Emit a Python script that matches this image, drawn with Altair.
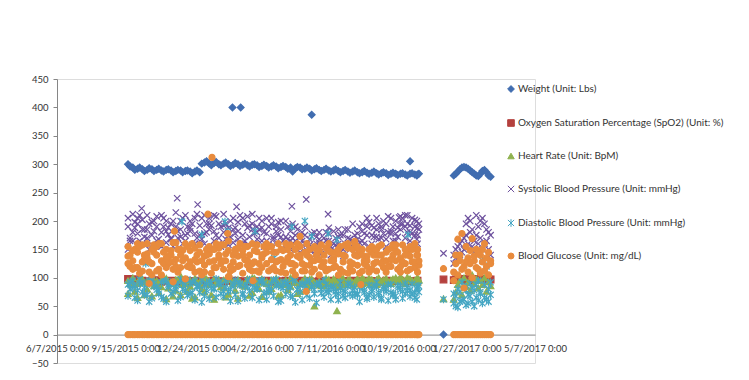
import altair as alt
import pandas as pd

SERIES = [
    "Weight (Unit: Lbs)",
    "Oxygen Saturation Percentage (SpO2) (Unit: %)",
    "Heart Rate (Unit: BpM)",
    "Systolic Blood Pressure (Unit: mmHg)",
    "Diastolic Blood Pressure (Unit: mmHg)",
    "Blood Glucose (Unit: mg/dL)",
]

# ---- measurement dates (segment 2015-2016, two interleaved sets) ----
DATES_A = [
    "2015-09-19", "2015-09-26", "2015-10-03", "2015-10-10", "2015-10-17", "2015-10-24", "2015-10-31",
    "2015-11-07", "2015-11-14", "2015-11-21", "2015-11-28", "2015-12-05", "2015-12-12", "2015-12-19",
    "2015-12-26", "2016-01-02", "2016-01-09", "2016-01-16", "2016-01-23", "2016-01-30", "2016-02-06",
    "2016-02-13", "2016-02-20", "2016-02-27", "2016-03-05", "2016-03-12", "2016-03-19", "2016-03-26",
    "2016-04-02", "2016-04-09", "2016-04-16", "2016-04-23", "2016-04-30", "2016-05-07", "2016-05-14",
    "2016-05-21", "2016-05-28", "2016-06-04", "2016-06-11", "2016-06-18", "2016-06-25", "2016-07-02",
    "2016-07-09", "2016-07-16", "2016-07-23", "2016-07-30", "2016-08-06", "2016-08-13", "2016-08-20",
    "2016-08-27", "2016-09-03", "2016-09-10", "2016-09-17", "2016-09-24", "2016-10-01", "2016-10-08",
    "2016-10-15", "2016-10-22", "2016-10-29", "2016-11-05", "2016-11-12", "2016-11-16",
]
DATES_B = [
    "2015-09-22", "2015-09-29", "2015-10-06", "2015-10-13", "2015-10-20", "2015-10-27", "2015-11-03",
    "2015-11-10", "2015-11-17", "2015-11-24", "2015-12-01", "2015-12-08", "2015-12-15", "2015-12-22",
    "2015-12-29", "2016-01-05", "2016-01-12", "2016-01-19", "2016-01-26", "2016-02-02", "2016-02-09",
    "2016-02-16", "2016-02-23", "2016-03-01", "2016-03-08", "2016-03-15", "2016-03-22", "2016-03-29",
    "2016-04-05", "2016-04-12", "2016-04-19", "2016-04-26", "2016-05-03", "2016-05-10", "2016-05-17",
    "2016-05-24", "2016-05-31", "2016-06-07", "2016-06-14", "2016-06-21", "2016-06-28", "2016-07-05",
    "2016-07-12", "2016-07-19", "2016-07-26", "2016-08-02", "2016-08-09", "2016-08-16", "2016-08-23",
    "2016-08-30", "2016-09-06", "2016-09-13", "2016-09-20", "2016-09-27", "2016-10-04", "2016-10-11",
    "2016-10-18", "2016-10-25", "2016-11-01", "2016-11-08", "2016-11-15", "2016-11-18",
]
# ---- 2017 segment ----
DATES_C = [
    "2017-01-08", "2017-01-11", "2017-01-14", "2017-01-17", "2017-01-20", "2017-01-23", "2017-01-26",
    "2017-01-29", "2017-02-01", "2017-02-04", "2017-02-07", "2017-02-10", "2017-02-13", "2017-02-16",
    "2017-02-19", "2017-02-22", "2017-02-25", "2017-02-28", "2017-03-03",
]
# single reading day in the gap
DATE_GAP = ["2016-12-24"]

# ---- Weight ----
WEIGHT_A = [300, 294, 292, 291, 290, 291, 290, 289, 290, 289, 288, 289, 288, 287, 287, 286, 303, 301, 302, 300,
            301, 300, 299, 300, 299, 298, 299, 298, 297, 297, 296, 296, 295, 295, 294, 293, 294, 292, 292, 291,
            290, 290, 289, 289, 288, 288, 287, 287, 286, 286, 285, 285, 284, 284, 284, 283, 283, 283, 282, 283,
            282, 282]
WEIGHT_B = [296, 290, 294, 288, 293, 288, 292, 287, 291, 286, 290, 286, 289, 284, 289, 301, 305, 298, 304, 298,
            303, 297, 302, 297, 301, 296, 300, 295, 299, 294, 298, 293, 297, 292, 287, 295, 291, 294, 289, 293,
            288, 292, 287, 291, 286, 290, 285, 289, 284, 288, 283, 287, 282, 286, 281, 285, 281, 284, 280, 284,
            280, 283]
WEIGHT_C = [280, 283, 287, 291, 294, 295, 294, 292, 289, 286, 283, 280, 279, 283, 288, 290, 286, 280, 278]
WEIGHT_GAP = [0]
WEIGHT_OUT_DATES = ["2016-02-19", "2016-03-02", "2016-06-14", "2016-11-05"]
WEIGHT_OUT = [400, 400, 387, 305]

# ---- SpO2 ----
SPO2_A = [98, 97, 97, 95, 94, 95, 96, 93, 94, 95, 94, 93, 95, 94, 94, 95, 93, 94, 95, 94, 93, 94, 95, 94, 94,
          93, 95, 94, 94, 95, 93, 94, 94, 95, 94, 93, 95, 94, 94, 93, 95, 94, 94, 95, 93, 94, 94, 95, 94, 93,
          95, 94, 94, 93, 95, 94, 94, 95, 93, 94, 94, 95]
SPO2_C = [96, 97, 97, 96, 98, 97, 96, 97, 98, 97, 96, 97, 98, 96, 97, 97, 98, 97, 97]
SPO2_GAP = [97]

# ---- Heart rate ----
HR_A = [72, 88, 65, 92, 80, 68, 95, 84, 63, 90, 78, 70, 97, 85, 66, 93, 75, 88, 62, 96, 82, 71, 90, 64, 87,
        98, 74, 86, 67, 94, 81, 89, 70, 96, 85, 92, 76, 99, 88, 50, 94, 86, 97, 90, 84, 99, 92, 87, 95, 100,
        91, 97, 88, 93, 99, 90, 96, 102, 94, 98, 92, 100]
HR_B = [90, 76, 98, 70, 94, 86, 74, 99, 82, 68, 95, 88, 76, 64, 92, 80, 98, 70, 91, 84, 66, 97, 78, 93, 85,
        69, 99, 81, 92, 76, 95, 68, 88, 79, 97, 72, 94, 83, 98, 90, 86, 99, 92, 95, 101, 88, 97, 93, 89, 96,
        99, 93, 100, 96, 92, 98, 94, 97, 101, 95, 99, 96]
HR_A2 = [95, 100, 90, 98, 93, 101, 88, 96, 99, 92, 97, 103, 90, 95, 99, 88, 100, 94, 98, 90, 96, 102, 92, 97,
         89, 95, 100, 93, 98, 90, 96, 99, 93, 88, 100, 95, 90, 94, 98, 92, 88, 95, 90, 98, 93, 88, 96, 92, 99,
         90, 95, 88, 97, 92, 90, 96, 100, 93, 90, 97, 95, 92]
HR_C = [62, 75, 88, 95, 70, 100, 85, 92, 78, 105, 90, 98, 82, 95, 88, 100, 76, 93, 86]
HR_GAP = [63]
HR_OUT_DATES = ["2016-07-21"]
HR_OUT = [42]

# ---- Systolic ----
SYS_A = [205, 180, 195, 160, 210, 175, 190, 155, 200, 170, 215, 185, 165, 200, 178, 192, 160, 205, 182, 170,
         212, 188, 162, 198, 175, 208, 185, 168, 200, 178, 195, 160, 185, 172, 150, 165, 145, 175, 158, 140,
         168, 152, 178, 148, 160, 138, 170, 155, 145, 165, 175, 160, 185, 170, 195, 178, 200, 185, 170, 192,
         175, 160]
SYS_B = [170, 198, 165, 185, 150, 200, 168, 190, 176, 155, 182, 205, 190, 158, 212, 168, 195, 150, 208, 190,
         168, 200, 178, 160, 195, 172, 160, 205, 180, 158, 172, 198, 165, 190, 170, 150, 180, 160, 148, 172,
         142, 165, 155, 170, 145, 160, 150, 175, 162, 178, 155, 188, 168, 200, 180, 165, 188, 205, 195, 178,
         200, 185]
SYS_A2 = [150, 212, 178, 202, 185, 158, 208, 180, 162, 195, 160, 172, 210, 182, 160, 175, 210, 185, 165, 195,
          180, 158, 205, 182, 160, 188, 212, 190, 165, 205, 155, 182, 200, 158, 182, 175, 158, 190, 168, 155,
          180, 142, 165, 182, 172, 150, 185, 165, 178, 195, 190, 175, 205, 190, 168, 205, 178, 195, 210, 165,
          190, 175]
SYS_B2 = [165, 188, 210, 172, 195, 182, 158, 205, 188, 200, 170, 160, 178, 195, 170, 205, 180, 192, 175, 155,
          195, 172, 188, 210, 165, 192, 178, 185, 155, 190, 168, 175, 150, 168, 195, 185, 165, 148, 178, 160,
          158, 180, 140, 158, 175, 185, 168, 150, 190, 160, 198, 172, 195, 178, 208, 190, 172, 195, 180, 205,
          168, 195]
SYS_A3 = [190, 165, 205, 185, 170, 198, 165, 210, 182, 168, 190, 200, 175, 188, 205, 160, 178, 195, 210, 160,
          192, 175, 185, 168, 205, 158, 195, 180, 188, 165, 205, 190, 172, 200, 165, 190, 172, 160, 150, 180,
          162, 170, 188, 160, 185, 175, 158, 195, 168, 182, 205, 192, 172, 185, 155, 182, 165, 208, 190, 180,
          202, 188]
SYS_C = [140, 150, 135, 160, 145, 170, 195, 205, 180, 155, 165, 210, 190, 170, 205, 160, 185, 150, 175]
SYS_C2 = [125, 135, 155, 140, 165, 150, 175, 160, 200, 185, 145, 175, 160, 200, 150, 195, 165, 180, 140]
SYS_GAP = [143]
SYS_OUT_DATES = ["2015-10-09", "2015-11-30", "2015-12-30", "2016-02-25", "2016-05-16", "2016-06-06",
                 "2016-07-08", "2016-10-20", "2016-11-01"]
SYS_OUT = [222, 240, 229, 225, 226, 238, 212, 206, 210]

# ---- Diastolic ----
DIA_A = [68, 82, 60, 75, 88, 64, 79, 92, 58, 72, 85, 66, 78, 90, 61, 74, 87, 63, 80, 93, 67, 76, 89, 59, 73,
         84, 65, 81, 94, 62, 77, 86, 60, 71, 83, 57, 75, 88, 64, 79, 91, 66, 74, 85, 61, 78, 90, 68, 72, 86,
         63, 80, 92, 65, 76, 88, 62, 79, 90, 67, 74, 85]
DIA_B = [80, 65, 90, 70, 58, 85, 72, 63, 88, 76, 60, 92, 69, 74, 86, 57, 78, 91, 66, 72, 84, 59, 70, 87, 64,
         77, 93, 61, 73, 85, 68, 58, 82, 90, 66, 79, 61, 70, 84, 56, 73, 88, 62, 76, 92, 65, 71, 83, 58, 74,
         87, 66, 70, 84, 60, 72, 86, 64, 77, 89, 62, 75]
DIA_A2 = [88, 95, 78, 92, 70, 96, 84, 66, 94, 88, 80, 97, 90, 72, 95, 86, 68, 93, 82, 90, 76, 98, 85, 92, 70,
          94, 88, 80, 96, 74, 90, 97, 84, 92, 68, 95, 87, 80, 94, 72, 88, 96, 80, 80, 72, 68, 85, 78, 70, 82,
          66, 76, 84, 62, 80, 74, 68, 86, 72, 78, 65, 82]
DIA_B2 = [92, 86, 97, 82, 95, 90, 78, 96, 84, 93, 88, 80, 97, 92, 84, 96, 90, 82, 98, 88, 94, 80, 96, 90, 86,
          97, 82, 94, 90, 78, 96, 88, 92, 84, 97, 80, 90, 95, 84, 88, 80, 76, 84, 70, 82, 76, 88, 72, 84, 78,
          70, 86, 74, 80, 88, 70, 82, 76, 84, 72, 80, 86]
DIA_C = [55, 68, 48, 75, 60, 85, 52, 70, 90, 58, 78, 65, 95, 72, 55, 88, 62, 80, 70]
DIA_C2 = [72, 50, 80, 58, 92, 62, 78, 55, 68, 82, 50, 88, 60, 75, 130, 65, 120, 58, 92]
DIA_GAP = [62]
DIA_OUT_DATES = ["2015-10-15", "2015-12-07", "2016-01-05", "2016-02-08", "2016-02-12", "2016-03-23",
                 "2016-04-20", "2016-05-16", "2016-06-04", "2016-06-14", "2016-07-08", "2016-07-21",
                 "2016-09-10", "2016-11-02"]
DIA_OUT = [125, 199, 176, 199, 182, 182, 135, 190, 200, 173, 178, 167, 115, 176]

# ---- Glucose ----
GLU_A = [155, 130, 145, 112, 160, 125, 140, 105, 150, 128, 162, 118, 135, 148, 110, 158, 122, 142, 130, 152,
         115, 165, 128, 138, 108, 155, 125, 146, 118, 160, 132, 112, 150, 128, 140, 105, 155, 122, 136, 115,
         148, 128, 160, 118, 142, 110, 152, 125, 138, 150, 120, 145, 112, 158, 130, 120, 148, 135, 125, 155,
         118, 140]
GLU_B = [120, 150, 108, 140, 128, 158, 115, 145, 125, 162, 110, 148, 155, 118, 140, 130, 150, 108, 160, 125,
         142, 120, 150, 160, 132, 115, 148, 125, 155, 112, 145, 160, 120, 150, 112, 138, 125, 160, 110, 140,
         120, 152, 130, 145, 115, 158, 128, 140, 108, 130, 150, 125, 140, 118, 150, 140, 115, 158, 145, 128,
         150, 122]
GLU_A2 = [138, 115, 160, 128, 142, 105, 155, 130, 118, 140, 132, 150, 98, 128, 152, 112, 138, 155, 118, 135,
          158, 102, 140, 120, 148, 130, 112, 158, 135, 125, 115, 145, 132, 108, 158, 122, 140, 112, 150, 130,
          105, 140, 115, 135, 150, 128, 108, 150, 122, 112, 138, 155, 128, 140, 110, 152, 130, 110, 150, 138,
          128, 110]
GLU_B2 = [140, 118, 155, 132, 110, 145, 160, 125, 138, 115, 150, 130, 120, 160, 128, 105, 140, 150, 118, 158,
          130, 112, 145, 122, 155, 140, 128, 110, 142, 155, 118, 130, 148, 135, 125, 160, 112, 140, 130, 150,
          158, 112, 145, 120, 155, 138, 118, 160, 148, 125, 110, 140, 155, 130, 120, 158, 145, 128, 112, 150,
          140, 130]
GLU_A3 = [125, 148, 118, 158, 135, 150, 112, 160, 135, 148, 120, 140, 160, 118, 132, 145, 110, 128, 150, 140,
          130, 148, 115, 152, 140, 122, 160, 112, 140, 145, 155, 128, 110, 160, 125, 150, 135, 145, 122, 155,
          132, 118, 148, 130, 105, 140, 160, 112, 155, 140, 130, 115, 150, 125, 145, 132, 158, 120, 140, 115,
          160, 150]
GLU_C = [110, 125, 168, 140, 178, 120, 155, 135, 148, 169, 130, 150, 115, 140, 128, 160, 120, 145, 130]
GLU_C2 = [95, 140, 105, 130, 115, 82, 128, 110, 125, 100, 138, 118, 145, 108, 150, 112, 135, 105, 125]
GLU_GAP = [116]
GLU_OUT_DATES = ["2015-10-20", "2015-11-24", "2015-11-26", "2016-01-14", "2016-01-20", "2016-02-12",
                 "2016-02-14", "2016-03-20", "2016-05-28", "2016-06-06", "2016-08-16", "2016-08-25"]
GLU_OUT = [90, 93, 182, 212, 312, 178, 102, 95, 173, 76, 164, 88]
# zero readings of glucose (band along the 0 line)
GLU_ZERO_A = [0, 0, 0, 0, 0, 0, 0, 0, 0, 0, 0, 0, 0, 0, 0, 0, 0, 0, 0, 0, 0, 0, 0, 0, 0, 0, 0, 0, 0, 0, 0,
              0, 0, 0, 0, 0, 0, 0, 0, 0, 0, 0, 0, 0, 0, 0, 0, 0, 0, 0, 0, 0, 0, 0, 0, 0, 0, 0, 0, 0, 0, 0]
GLU_ZERO_B = [0, 0, 0, 0, 0, 0, 0, 0, 0, 0, 0, 0, 0, 0, 0, 0, 0, 0, 0, 0, 0, 0, 0, 0, 0, 0, 0, 0, 0, 0, 0,
              0, 0, 0, 0, 0, 0, 0, 0, 0, 0, 0, 0, 0, 0, 0, 0, 0, 0, 0, 0, 0, 0, 0, 0, 0, 0, 0, 0, 0, 0, 0]
GLU_ZERO_C = [0, 0, 0, 0, 0, 0, 0, 0, 0, 0, 0, 0, 0, 0, 0, 0, 0, 0, 0]

# ---- axis ticks ----
X_TICKS = ["2015-06-07", "2015-09-15", "2015-12-24", "2016-04-02", "2016-07-11", "2016-10-19",
           "2017-01-27", "2017-05-07"]
Y_TICKS = [-50, 0, 50, 100, 150, 200, 250, 300, 350, 400, 450]

# ---- build table (series order = draw order) ----
groups = [
    (0, [(DATES_A, WEIGHT_A), (DATES_B, WEIGHT_B), (WEIGHT_OUT_DATES, WEIGHT_OUT), (DATE_GAP, WEIGHT_GAP),
         (DATES_C, WEIGHT_C)]),
    (1, [(DATES_A, SPO2_A), (DATE_GAP, SPO2_GAP), (DATES_C, SPO2_C)]),
    (2, [(DATES_A, HR_A), (DATES_B, HR_B), (DATES_A, HR_A2), (HR_OUT_DATES, HR_OUT), (DATE_GAP, HR_GAP),
         (DATES_C, HR_C)]),
    (3, [(DATES_A, SYS_A), (DATES_B, SYS_B), (DATES_A, SYS_A2), (DATES_B, SYS_B2), (DATES_A, SYS_A3),
         (SYS_OUT_DATES, SYS_OUT), (DATE_GAP, SYS_GAP), (DATES_C, SYS_C), (DATES_C, SYS_C2)]),
    (4, [(DATES_A, DIA_A), (DATES_B, DIA_B), (DATES_A, DIA_A2), (DATES_B, DIA_B2), (DIA_OUT_DATES, DIA_OUT),
         (DATE_GAP, DIA_GAP), (DATES_C, DIA_C), (DATES_C, DIA_C2)]),
    (5, [(DATES_A, GLU_ZERO_A), (DATES_B, GLU_ZERO_B), (DATES_C, GLU_ZERO_C), (DATES_A, GLU_A),
         (DATES_B, GLU_B), (DATES_A, GLU_A2), (DATES_B, GLU_B2), (DATES_A, GLU_A3),
         (GLU_OUT_DATES, GLU_OUT), (DATE_GAP, GLU_GAP), (DATES_C, GLU_C), (DATES_C, GLU_C2)]),
]
rows = []
order = 0
for si, parts in groups:
    for dates, vals in parts:
        for d, v in zip(dates, vals):
            rows.append({"series": SERIES[si], "date": d, "value": v, "order": order})
            order += 1
df = pd.DataFrame(rows)
df["date"] = pd.to_datetime(df["date"])

COLORS = ["#416DB0", "#B5413E", "#8FB24F", "#6E529E", "#44A6C3", "#E88B3D"]
SHAPES = ["diamond", "square", "triangle-up",
          "M-1,-1L1,1M-1,1L1,-1",
          "M-1,-1L1,1M-1,1L1,-1M0,-1.25L0,1.25",
          "circle"]
SIZES = [46, 36, 52, 72, 72, 72]

FONT = "Lato"
AXIS_COLOR = "#868686"
TEXT_COLOR = "#333333"

legend = alt.Legend(
    title=None, orient="none", legendX=449, legendY=5, direction="vertical",
    rowPadding=22, labelFont=FONT, labelFontSize=10, labelColor=TEXT_COLOR,
    symbolStrokeWidth=1, labelOffset=2, padding=0, labelLimit=400,
)

x_ticks = [alt.DateTime(year=int(s[:4]), month=int(s[5:7]), date=int(s[8:])) for s in X_TICKS]

chart = alt.Chart(df).mark_point(opacity=1, strokeWidth=1.2).encode(
    x=alt.X(
        "date:T",
        scale=alt.Scale(domain=[x_ticks[0], x_ticks[-1]], nice=False),
        axis=alt.Axis(
            title=None, values=x_ticks, format="%-m/%-d/%Y %-H:%M", grid=False, ticks=False,
            domainColor=AXIS_COLOR, labelFont=FONT, labelFontSize=9.5, labelColor=TEXT_COLOR,
            labelOverlap=False, labelFlush=False, labelPadding=9, offset=-28.4, labelBound=False,
        ),
    ),
    y=alt.Y(
        "value:Q",
        scale=alt.Scale(domain=[-50, 450], nice=False, zero=False),
        axis=alt.Axis(
            title=None, values=Y_TICKS, grid=False, tickSize=4, tickColor=AXIS_COLOR,
            domainColor=AXIS_COLOR, labelFont=FONT, labelFontSize=9.5, labelColor=TEXT_COLOR,
            labelPadding=5,
        ),
    ),
    fill=alt.Fill("series:N", scale=alt.Scale(domain=SERIES, range=COLORS), legend=legend),
    stroke=alt.Stroke("series:N", scale=alt.Scale(domain=SERIES, range=COLORS), legend=legend),
    shape=alt.Shape("series:N", scale=alt.Scale(domain=SERIES, range=SHAPES), legend=legend),
    size=alt.Size("series:N", scale=alt.Scale(domain=SERIES, range=SIZES), legend=legend),
    order=alt.Order("order:Q"),
).properties(
    width=478,
    height=284,
    autosize=alt.AutoSizeParams(type="none"),
    padding={"left": 49, "top": 71, "right": 206, "bottom": 9},
).configure_view(stroke=None).configure(background="white")

chart.save("out.html", embed_options={"renderer": "svg", "actions": False})
